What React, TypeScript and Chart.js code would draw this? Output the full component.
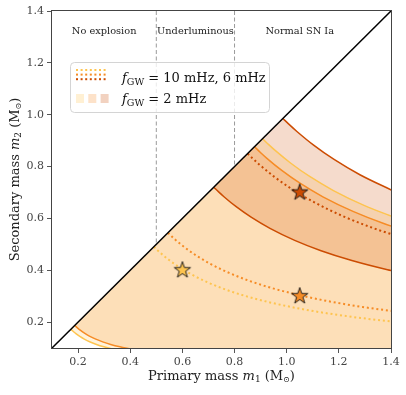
import React, { useEffect, useRef } from "react";
import { Chart, registerables } from "chart.js";

Chart.register(...registerables);

// ---- axes ----
const X_MIN = 0.1;
const X_MAX = 1.4;
const Y_MIN = 0.1;
const Y_MAX = 1.4;
const xTickValues = [0.2, 0.4, 0.6, 0.8, 1.0, 1.2, 1.4];
const yTickValues = [0.2, 0.4, 0.6, 0.8, 1.0, 1.2, 1.4];

// ---- f_GW = 2 mHz band edges (solid lines) ----
const yellowLowerX = [0.1723, 0.1768, 0.1817, 0.1929, 0.2066, 0.2239, 0.2466, 0.2708, 0.299, 0.3317, 0.3687];
const yellowLowerY = [0.1723, 0.168, 0.1635, 0.1543, 0.1446, 0.1343, 0.1233, 0.1137, 0.1047, 0.0962, 0.0885];
const yellowUpperX = [0.9075, 0.9311, 0.9568, 1.0159, 1.0881, 1.1792, 1.2986, 1.426];
const yellowUpperY = [0.9075, 0.8846, 0.8612, 0.8127, 0.7616, 0.7074, 0.6493, 0.599];
const orangeLowerX = [0.1872, 0.1921, 0.1974, 0.2096, 0.2245, 0.2433, 0.2679, 0.2942, 0.3249, 0.3605, 0.4006];
const orangeLowerY = [0.1872, 0.1825, 0.1777, 0.1677, 0.1571, 0.146, 0.134, 0.1236, 0.1137, 0.1045, 0.0962];
const orangeUpperX = [0.8765, 0.8993, 0.9241, 0.9811, 1.0509, 1.1389, 1.2542, 1.3773, 1.521];
const orangeUpperY = [0.8765, 0.8543, 0.8317, 0.7849, 0.7356, 0.6833, 0.6271, 0.5785, 0.5324];
const darkLowerX = [0.7202, 0.739, 0.7594, 0.8063, 0.8636, 0.9359, 1.0307, 1.1318, 1.2499, 1.3866, 1.541];
const darkLowerY = [0.7202, 0.7021, 0.6835, 0.645, 0.6045, 0.5615, 0.5153, 0.4754, 0.4375, 0.4022, 0.3699];
const darkUpperX = [0.9856, 1.0112, 1.0392, 1.1033, 1.1817, 1.2807, 1.4104];
const darkUpperY = [0.9856, 0.9607, 0.9353, 0.8826, 0.8272, 0.7683, 0.7052];

// ---- f_GW = 10 mHz, 6 mHz (dotted lines) ----
const yellowDotX = [0.4905, 0.5033, 0.5172, 0.5491, 0.5881, 0.6373, 0.7019, 0.7708, 0.8512, 0.9443, 1.0495, 1.1632, 1.3208, 1.4883];
const yellowDotY = [0.4905, 0.4781, 0.4655, 0.4393, 0.4117, 0.3824, 0.351, 0.3237, 0.2979, 0.2739, 0.2519, 0.2326, 0.2113, 0.1935];
const orangeDotX = [0.5445, 0.5587, 0.5741, 0.6095, 0.6528, 0.7075, 0.7792, 0.8556, 0.9449, 1.0483, 1.165, 1.2912, 1.4662];
const orangeDotY = [0.5445, 0.5307, 0.5167, 0.4876, 0.457, 0.4245, 0.3896, 0.3594, 0.3307, 0.304, 0.2796, 0.2582, 0.2346];
const darkDotX = [0.85, 0.8722, 0.8963, 0.9516, 1.0192, 1.1045, 1.2164, 1.3358, 1.4752];
const darkDotY = [0.85, 0.8286, 0.8067, 0.7612, 0.7134, 0.6627, 0.6082, 0.5611, 0.5163];

// ---- stars ----
const starX = [0.6, 1.05, 1.05];
const starY = [0.4, 0.3, 0.7];

// ---- guides ----
const diagX = [0.1, 1.4];
const diagY = [0.1, 1.4];
const boundaryX = [0.5, 0.8];
const regionLabels = ["No explosion", "Underluminous", "Normal SN Ia"];
const regionLabelX = [0.3, 0.65, 1.05];
const regionLabelY = 1.32;

const legendRow1 = "10 mHz, 6 mHz";
const legendRow2 = "2 mHz";

const YELLOW = "#fec44f";
const ORANGE = "#f68c26";
const DARK = "#cc4c02";
const rgba = (hex: string, a: number) => {
  const n = parseInt(hex.slice(1), 16);
  return `rgba(${(n >> 16) & 255},${(n >> 8) & 255},${n & 255},${a})`;
};

const SERIF = '"DejaVu Serif", "DejaVu Sans", serif';

type Run = { t: string; f: string; dy?: number };
function drawRuns(ctx: CanvasRenderingContext2D, runs: Run[], x: number, y: number, align: "left" | "center") {
  let w = 0;
  for (const r of runs) {
    ctx.font = r.f;
    w += ctx.measureText(r.t).width;
  }
  let cx = align === "center" ? x - w / 2 : x;
  ctx.textAlign = "left";
  ctx.textBaseline = "alphabetic";
  for (const r of runs) {
    ctx.font = r.f;
    ctx.fillText(r.t, cx, y + (r.dy || 0));
    cx += ctx.measureText(r.t).width;
  }
}

function makeStar(color: string) {
  const size = 22;
  const c = document.createElement("canvas");
  c.width = size;
  c.height = size;
  const ctx = c.getContext("2d")!;
  const cx = size / 2;
  const cy = size / 2;
  const R = 8.6;
  const r = R * 0.39;
  ctx.beginPath();
  for (let i = 0; i < 10; i++) {
    const ang = -Math.PI / 2 + (i * Math.PI) / 5;
    const rad = i % 2 === 0 ? R : r;
    ctx.lineTo(cx + rad * Math.cos(ang), cy + rad * Math.sin(ang));
  }
  ctx.closePath();
  ctx.fillStyle = color;
  ctx.fill();
  ctx.lineWidth = 0.9;
  ctx.lineJoin = "miter";
  ctx.strokeStyle = "#111";
  ctx.stroke();
  return c;
}

const pts = (xs: number[], ys: number[]) => xs.map((x, i) => ({ x, y: ys[i] }));

function band(lx: number[], ly: number[], ux: number[], uy: number[]) {
  const p = pts(lx, ly);
  const cx = Math.max(lx[lx.length - 1], ux[ux.length - 1]) + 0.05;
  p.push({ x: cx, y: ly[ly.length - 1] });
  p.push({ x: cx, y: uy[uy.length - 1] });
  for (let i = ux.length - 1; i >= 0; i--) p.push({ x: ux[i], y: uy[i] });
  p.push({ x: lx[0], y: ly[0] });
  return p;
}

const decor = {
  id: "decor",
  afterDraw(chart: any) {
    const { ctx, chartArea: a, scales } = chart;
    const xs = scales.x;
    const ys = scales.y;
    ctx.save();
    // frame
    ctx.strokeStyle = "#444";
    ctx.lineWidth = 1;
    ctx.strokeRect(Math.round(a.left) - 0.5, Math.round(a.top) - 0.5, Math.round(a.right - a.left) + 1, Math.round(a.bottom - a.top) + 1);

    // region labels
    ctx.fillStyle = "#222";
    ctx.font = `9.8px ${SERIF}`;
    ctx.textAlign = "center";
    ctx.textBaseline = "middle";
    regionLabels.forEach((t, i) => ctx.fillText(t, xs.getPixelForValue(regionLabelX[i]), ys.getPixelForValue(regionLabelY)));

    // legend
    const lx = a.left + 18;
    const ly = a.top + 51;
    const lw = 199;
    const lh = 50;
    ctx.beginPath();
    ctx.roundRect(lx + 0.5, ly + 0.5, lw, lh, 4);
    ctx.fillStyle = "rgba(255,255,255,0.8)";
    ctx.fill();
    ctx.strokeStyle = "#d4d4d4";
    ctx.lineWidth = 1;
    ctx.stroke();
    // dotted icon
    const dotCols = [YELLOW, ORANGE, DARK];
    dotCols.forEach((col, r) => {
      ctx.fillStyle = col;
      for (let c = 0; c < 7; c++) {
        ctx.fillRect(lx + 6 + c * 4.6, ly + 7 + r * 4.6, 2, 2);
      }
    });
    // patches
    [YELLOW, ORANGE, DARK].forEach((col, i) => {
      ctx.fillStyle = rgba(col, 0.25);
      ctx.fillRect(lx + 6 + i * 12.3, ly + 32, 8, 9);
    });
    ctx.fillStyle = "#111";
    drawRuns(
      ctx,
      [
        { t: "f", f: `italic 13px ${SERIF}` },
        { t: "GW", f: `9.5px ${SERIF}`, dy: 3 },
        { t: " = " + legendRow1, f: `13px ${SERIF}` },
      ],
      lx + 52,
      ly + 20,
      "left"
    );
    drawRuns(
      ctx,
      [
        { t: "f", f: `italic 13px ${SERIF}` },
        { t: "GW", f: `9.5px ${SERIF}`, dy: 3 },
        { t: " = " + legendRow2, f: `13px ${SERIF}` },
      ],
      lx + 52,
      ly + 41,
      "left"
    );

    // axis titles
    ctx.fillStyle = "#222";
    drawRuns(
      ctx,
      [
        { t: "Primary mass ", f: `13px ${SERIF}` },
        { t: "m", f: `italic 13px ${SERIF}` },
        { t: "1", f: `9px ${SERIF}`, dy: 2.5 },
        { t: " (M", f: `13px ${SERIF}` },
        { t: "⊙", f: `8px ${SERIF}`, dy: 2.5 },
        { t: ")", f: `13px ${SERIF}` },
      ],
      (a.left + a.right) / 2,
      379.5,
      "center"
    );
    ctx.save();
    ctx.translate(18.5, (a.top + a.bottom) / 2);
    ctx.rotate(-Math.PI / 2);
    drawRuns(
      ctx,
      [
        { t: "Secondary mass ", f: `13px ${SERIF}` },
        { t: "m", f: `italic 13px ${SERIF}` },
        { t: "2", f: `9px ${SERIF}`, dy: 2.5 },
        { t: " (M", f: `13px ${SERIF}` },
        { t: "⊙", f: `8px ${SERIF}`, dy: 2.5 },
        { t: ")", f: `13px ${SERIF}` },
      ],
      0,
      0,
      "center"
    );
    ctx.restore();
    ctx.restore();
  },
};

export default function App() {
  const ref = useRef<HTMLCanvasElement>(null);
  useEffect(() => {
    const canvas = ref.current!;
    const curve = (xs: number[], ys: number[], color: string, dotted: boolean, order = 10) => ({
      data: pts(xs, ys),
      borderColor: color,
      borderWidth: dotted ? 2 : 1.5,
      borderDash: dotted ? [2, 2.8] : [],
      pointRadius: 0,
      fill: false,
      cubicInterpolationMode: "monotone",
      clip: 0,
      order,
    });
    const bandSet = (p: any[], color: string, order: number) => ({
      data: p,
      borderWidth: 0,
      borderColor: "rgba(0,0,0,0)",
      backgroundColor: rgba(color, 0.2),
      pointRadius: 0,
      fill: "shape",
      tension: 0,
      clip: 0,
      order,
    });
    const datasets: any[] = [
      ...boundaryX.map((bx) => ({
        data: [
          { x: bx, y: Y_MAX },
          { x: bx, y: bx },
        ],
        borderColor: "#9a9a9a",
        borderWidth: 1,
        borderDash: [4, 2.5],
        pointRadius: 0,
        fill: false,
        clip: 0,
        order: 40,
      })),
      bandSet(band(yellowLowerX, yellowLowerY, yellowUpperX, yellowUpperY), YELLOW, 32),
      bandSet(band(orangeLowerX, orangeLowerY, orangeUpperX, orangeUpperY), ORANGE, 31),
      bandSet(band(darkLowerX, darkLowerY, darkUpperX, darkUpperY), DARK, 30),
      curve(yellowLowerX, yellowLowerY, YELLOW, false),
      curve(yellowUpperX, yellowUpperY, YELLOW, false),
      curve(orangeLowerX, orangeLowerY, ORANGE, false),
      curve(orangeUpperX, orangeUpperY, ORANGE, false),
      curve(darkLowerX, darkLowerY, DARK, false),
      curve(darkUpperX, darkUpperY, DARK, false),
      curve(yellowDotX, yellowDotY, YELLOW, true),
      curve(orangeDotX, orangeDotY, ORANGE, true),
      curve(darkDotX, darkDotY, DARK, true),
      {
        data: pts(diagX, diagY),
        borderColor: "#000",
        borderWidth: 1.5,
        pointRadius: 0,
        fill: false,
        clip: 0,
        order: 5,
      },
      {
        data: pts(starX, starY),
        showLine: false,
        pointStyle: [makeStar(YELLOW), makeStar(ORANGE), makeStar(DARK)],
        pointRadius: 9,
        order: 0,
      },
    ];

    const tickFont = { family: SERIF, size: 11 };
    const chart = new Chart(canvas, {
      type: "line",
      data: { datasets },
      options: {
        responsive: false,
        animation: false,
        devicePixelRatio: 1,
        events: [],
        layout: { padding: { left: 0, top: 11, right: 15, bottom: 0 } },
        plugins: { legend: { display: false }, tooltip: { enabled: false } },
        scales: {
          x: {
            type: "linear",
            min: X_MIN,
            max: X_MAX,
            afterFit: (s: any) => {
              s.height = 47;
            },
            afterBuildTicks: (s: any) => {
              s.ticks = xTickValues.map((v) => ({ value: v }));
            },
            grid: { drawOnChartArea: false, drawTicks: true, tickLength: 5, color: "#555", lineWidth: 1 },
            border: { display: false },
            ticks: { font: tickFont, color: "#444", padding: 3, maxRotation: 0, autoSkip: false, callback: (v: any) => Number(v).toFixed(1) },
          },
          y: {
            type: "linear",
            min: Y_MIN,
            max: Y_MAX,
            afterFit: (s: any) => {
              s.width = 52;
            },
            afterBuildTicks: (s: any) => {
              s.ticks = yTickValues.map((v) => ({ value: v }));
            },
            grid: { drawOnChartArea: false, drawTicks: true, tickLength: 5, color: "#555", lineWidth: 1 },
            border: { display: false },
            ticks: { font: tickFont, color: "#444", padding: 3, autoSkip: false, callback: (v: any) => Number(v).toFixed(1) },
          },
        },
      } as any,
      plugins: [decor],
    });
    return () => chart.destroy();
  }, []);
  return (
    <div style={{ position: "absolute", left: 0, top: 0, width: 406, height: 395 }}>
      <canvas ref={ref} width={406} height={395} style={{ display: "block", width: 406, height: 395 }} />
    </div>
  );
}
